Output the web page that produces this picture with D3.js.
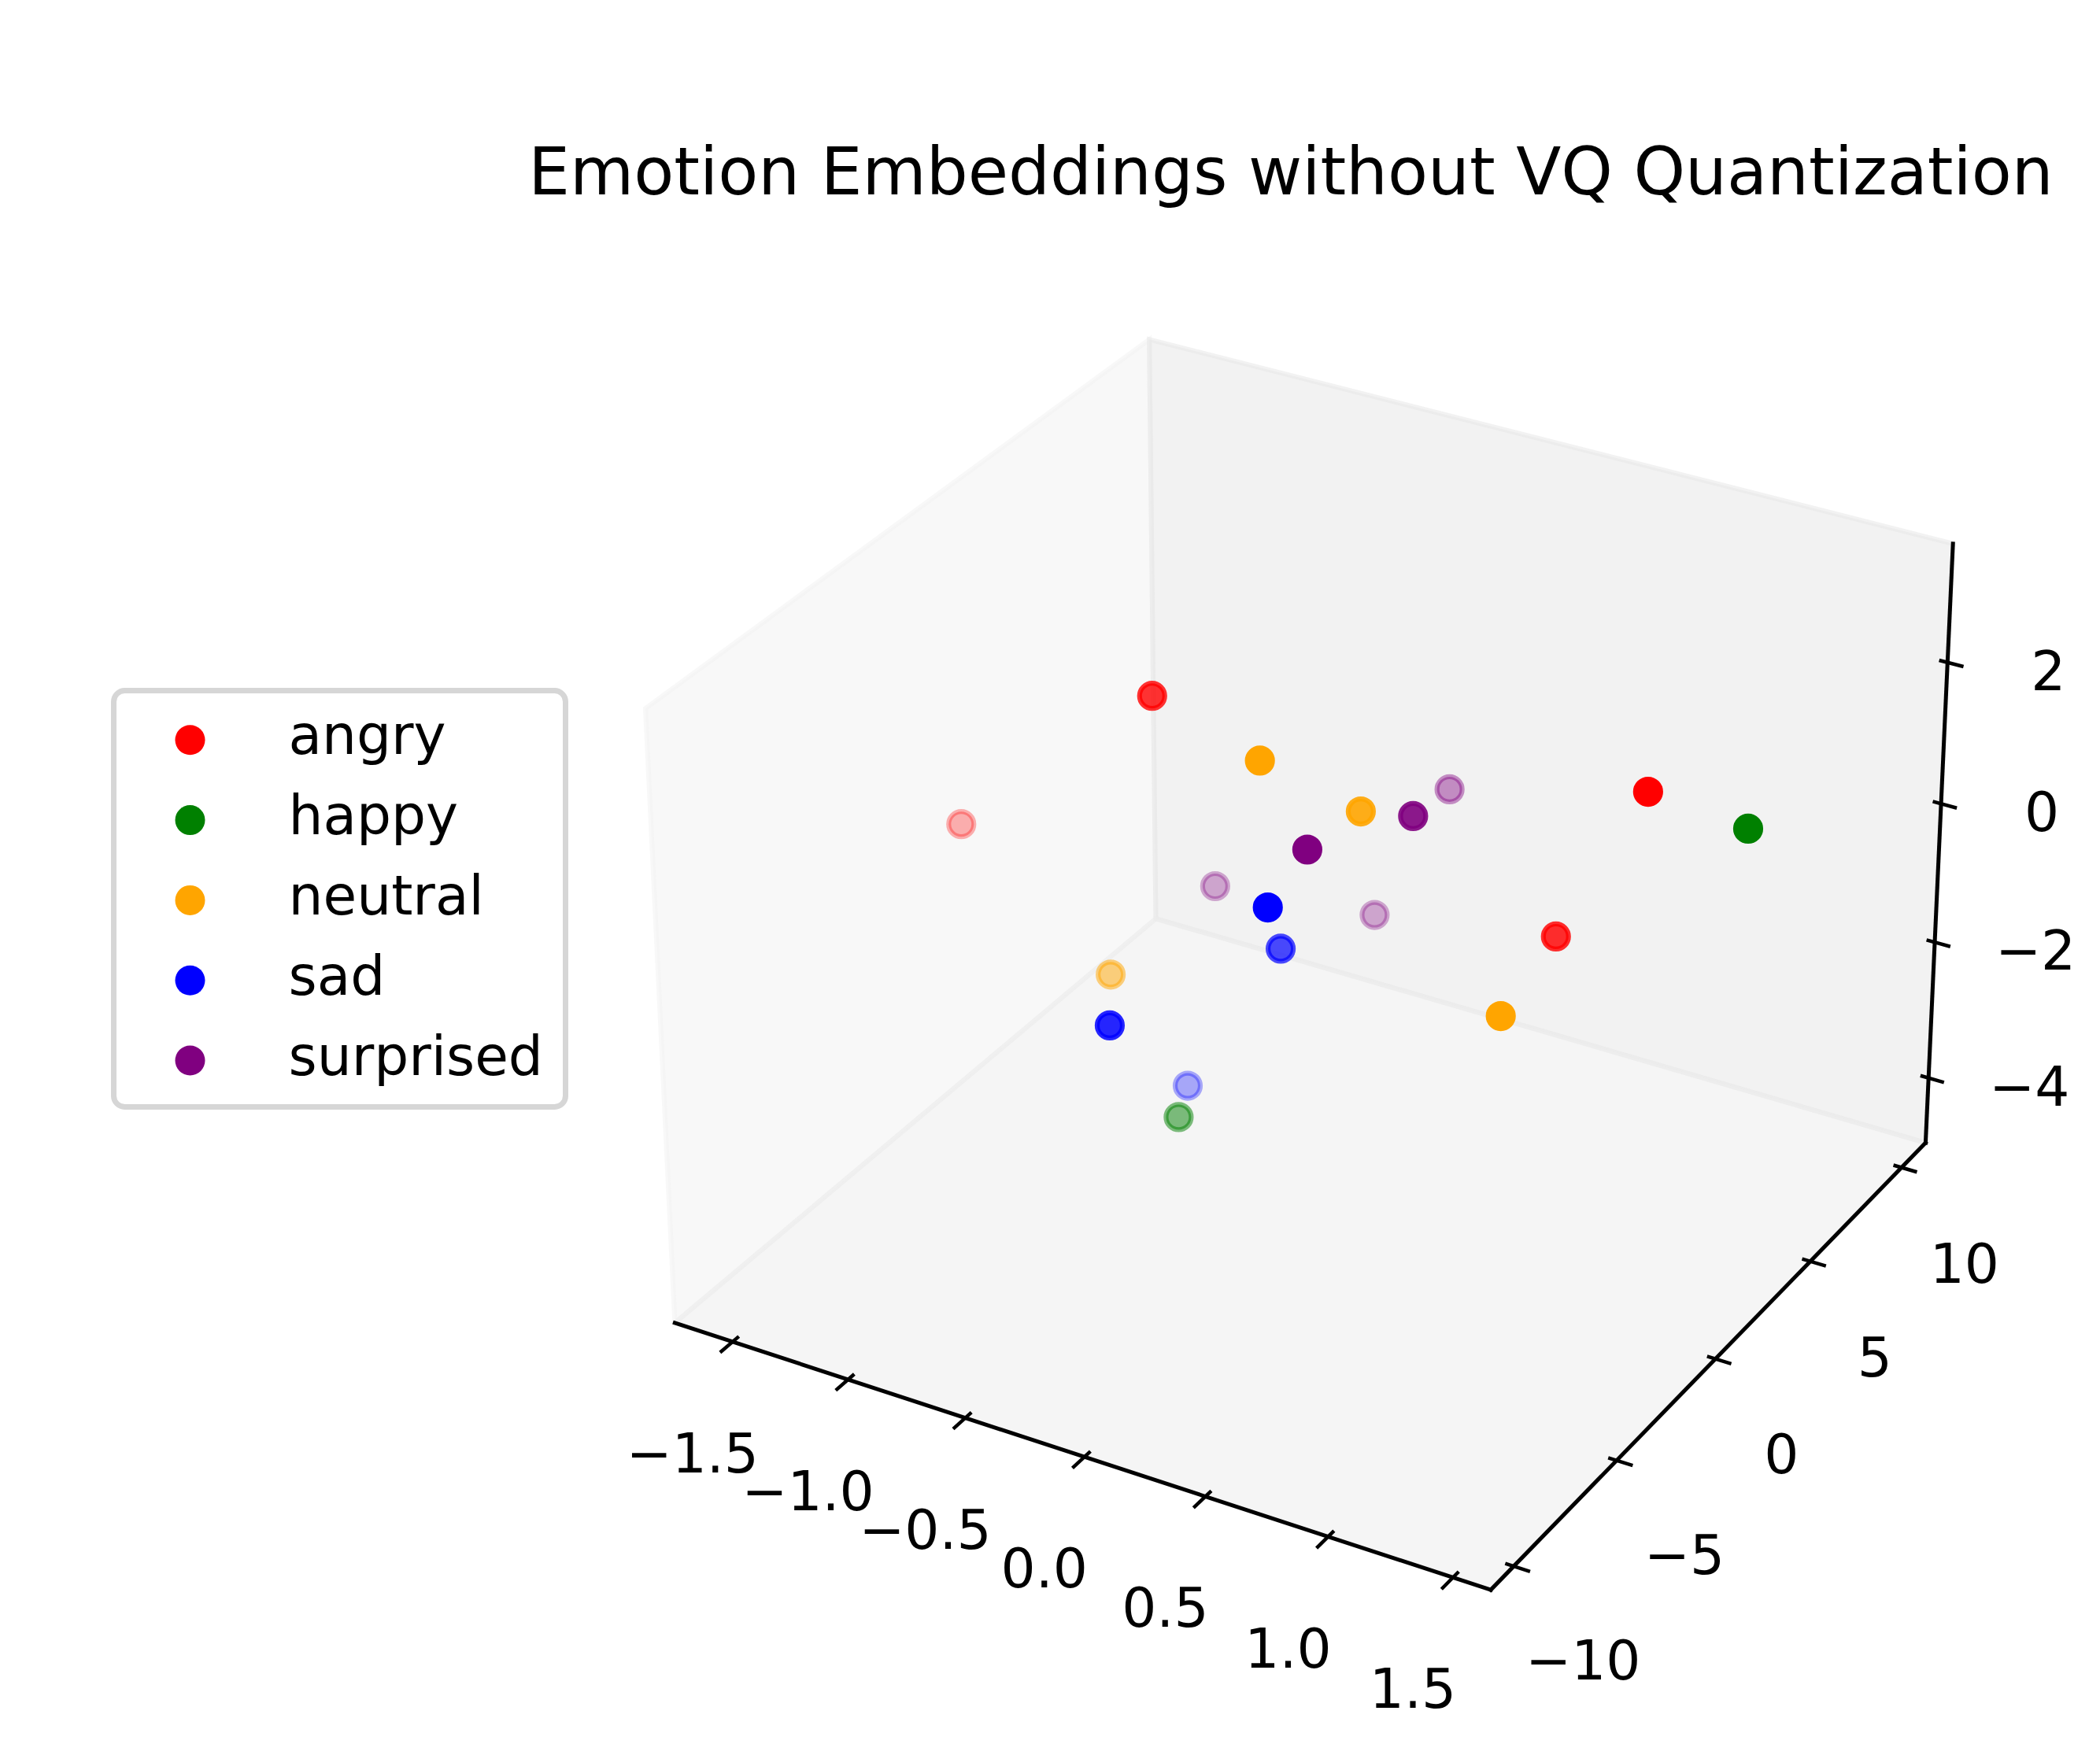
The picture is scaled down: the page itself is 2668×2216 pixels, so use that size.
<!DOCTYPE html>
<html>
<head>
<meta charset="utf-8">
<script src="https://cdnjs.cloudflare.com/ajax/libs/d3/7.8.5/d3.min.js"></script>
<style>html,body{margin:0;padding:0;background:#fff}svg{display:block}text{font-family:"DejaVu Sans",sans-serif;fill:#000}</style>
</head>
<body>
<svg id="chart" width="2668" height="2216"></svg>
<script>
const chartTitle = "Emotion Embeddings without VQ Quantization";
const emotions = ["angry", "happy", "neutral", "sad", "surprised"];
const emotionColors = ["#ff0000", "#008000", "#ffa500", "#0000ff", "#800080"];

const angryX = [-0.452, -1.761, 1.454, 1.0];
const angryY = [-2.77, 2.193, -1.722, -0.439];
const angryZ = [3.006, -1.237, 3.218, 0.488];
const angryShade = [0.8, 0.3, 1, 0.82];

const happyX = [1.563, -0.685];
const happyY = [2.006, 0.777];
const happyZ = [1.895, -4.119];
const happyShade = [1, 0.5];

const neutralX = [0.137, 0.363, -1.039, 1.089];
const neutralY = [-4.405, -2.316, 1.458, -4.175];
const neutralZ = [3.067, 2.073, -2.554, 0.453];
const neutralShade = [1, 0.9, 0.5, 1];

const sadX = [0.289, -0.011, -0.281, -0.748];
const sadY = [-5.772, -1.808, -6.689, 1.914];
const sadZ = [1.564, -0.32, -0.386, -4.026];
const sadShade = [1, 0.7, 0.85, 0.32];

const surprisedX = [-0.112, 0.405, 0.233, -0.91, -0.36];
const surprisedY = [7.611, -0.317, -3.321, 5.095, 6.77];
const surprisedZ = [-0.521, 1.552, 1.679, -2.065, -2.384];
const surprisedShade = [0.42, 0.9, 1, 0.32, 0.32];

const xTicks = [-1.5, -1.0, -0.5, 0.0, 0.5, 1.0, 1.5];
const xTickLabels = ["\u22121.5", "\u22121.0", "\u22120.5", "0.0", "0.5", "1.0", "1.5"];
const yTicks = [-10, -5, 0, 5, 10];
const yTickLabels = ["\u221210", "\u22125", "0", "5", "10"];
const zTicks = [-4, -2, 0, 2];
const zTickLabels = ["\u22124", "\u22122", "0", "2"];
const xLimits = [-1.753, 1.650];
const yLimits = [-11.09, 11.35];
const zLimits = [-4.97, 3.65];

const seriesX = [angryX, happyX, neutralX, sadX, surprisedX];
const seriesY = [angryY, happyY, neutralY, sadY, surprisedY];
const seriesZ = [angryZ, happyZ, neutralZ, sadZ, surprisedZ];
const seriesShade = [angryShade, happyShade, neutralShade, sadShade, surprisedShade];

const svg = d3.select("#chart");

// Camera: elevation 30, azimuth -60, distance 10, box aspect 4:4:3
const halfXY = 0.595, halfZ = 0.4465, dist = 10;
const el = 30 * Math.PI / 180, az = -60 * Math.PI / 180;
const w = [Math.cos(el) * Math.cos(az), Math.cos(el) * Math.sin(az), Math.sin(el)];
const u = [-Math.sin(az), Math.cos(az), 0];
const v = [w[1] * u[2] - w[2] * u[1], w[2] * u[0] - w[0] * u[2], w[0] * u[1] - w[1] * u[0]];
const dot = (a, b) => a[0] * b[0] + a[1] * b[1] + a[2] * b[2];

const boxX = d3.scaleLinear().domain(xLimits).range([-halfXY + 0.0038, halfXY]);
const boxY = d3.scaleLinear().domain(yLimits).range([-halfXY, halfXY]);
const boxZ = d3.scaleLinear().domain(zLimits).range([-halfZ, halfZ - 0.0057]);
const screenX = d3.scaleLinear().domain([-1, 1]).range([664, 2666]);
const screenY = d3.scaleLinear().domain([-1, 1]).range([2187.5, 181.5]);

function project(x, y, z) {
  const d = [boxX(x), boxY(y), boxZ(z)];
  const f = 1 / (1 - dot(d, w) / dist);
  return [screenX(dot(d, u) * f), screenY(dot(d, v) * f)];
}

const [x0, x1] = xLimits, [y0, y1] = yLimits, [z0, z1] = zLimits;
const lineGen = d3.line();

// Panes
const panes = [
  { c: [[x0, y0, z0], [x0, y1, z0], [x0, y1, z1], [x0, y0, z1]], col: "rgba(242,242,242,0.5)" },
  { c: [[x0, y1, z0], [x1, y1, z0], [x1, y1, z1], [x0, y1, z1]], col: "rgba(230,230,230,0.5)" },
  { c: [[x0, y0, z0], [x1, y0, z0], [x1, y1, z0], [x0, y1, z0]], col: "rgba(236,236,236,0.5)" }
];
svg.append("g").selectAll("path").data(panes).join("path")
  .attr("d", d => lineGen(d.c.map(p => project(...p))) + "Z")
  .attr("fill", d => d.col).attr("stroke", d => d.col).attr("stroke-width", 6);

// Axis lines
const axes = [
  [[x0, y0, z0], [x1, y0, z0]],
  [[x1, y0, z0], [x1, y1, z0]],
  [[x1, y1, z0], [x1, y1, z1]]
];
svg.append("g").selectAll("path").data(axes).join("path")
  .attr("d", d => lineGen(d.map(p => project(...p))))
  .attr("fill", "none").attr("stroke", "#000").attr("stroke-width", 5).attr("stroke-linecap", "square");

// Ticks and tick labels
const xDx = x1 - x0, yDy = y1 - y0;
const yShiftX = d3.scaleLinear().domain([-10, 10]).range([88, 80]);
const yShiftY = d3.scaleLinear().domain([-10, 10]).range([119, 122]);
const tickDefs = [
  ...xTicks.map((t, i) => ({ a: [t, y0 + 0.012 * yDy, z0], b: [t, y0 - 0.024 * yDy, z0], on: [t, y0, z0], label: xTickLabels[i], off: [-51, 141] })),
  ...yTicks.map((t, i) => ({ a: [x1 - 0.01 * xDx, t, z0], b: [x1 + 0.019 * xDx, t, z0], on: [x1, t, z0], label: yTickLabels[i], off: [yShiftX(t), yShiftY(t)] })),
  ...zTicks.map((t, i) => ({ a: [x1 - 0.01 * xDx, y1, t], b: [x1 + 0.019 * xDx, y1, t], on: [x1, y1, t], label: zTickLabels[i], off: [128, 10] }))
];
svg.append("g").selectAll("path").data(tickDefs).join("path")
  .attr("d", d => lineGen([project(...d.a), project(...d.b)]))
  .attr("stroke", "#000").attr("stroke-width", 4.5);
svg.append("g").selectAll("text").data(tickDefs).join("text")
  .attr("x", d => project(...d.on)[0] + d.off[0])
  .attr("y", d => project(...d.on)[1] + d.off[1])
  .attr("dy", "0.36em").attr("text-anchor", "middle").attr("font-size", 69.4)
  .text(d => d.label);

// Points
const points = emotions.flatMap((e, s) => seriesX[s].map((x, i) => ({
  x, y: seriesY[s][i], z: seriesZ[s][i], shade: seriesShade[s][i], color: emotionColors[s]
})));
svg.append("g").selectAll("circle").data(points).join("circle")
  .attr("cx", d => project(d.x, d.y, d.z)[0])
  .attr("cy", d => project(d.x, d.y, d.z)[1])
  .attr("r", 16)
  .attr("fill", d => d.color).attr("stroke", d => d.color)
  .attr("stroke-width", 6.2)
  .attr("fill-opacity", d => d.shade).attr("stroke-opacity", d => d.shade);

// Legend
const legend = svg.append("g");
legend.append("rect").attr("x", 144.5).attr("y", 877.5).attr("width", 574).attr("height", 529)
  .attr("rx", 14).attr("fill", "#fff").attr("stroke", "#d6d6d6").attr("stroke-width", 7);
const legendY = d3.scalePoint().domain(emotions).range([940.3, 1347.5]);
legend.selectAll("circle").data(emotions).join("circle")
  .attr("cx", 241.5).attr("cy", d => legendY(d)).attr("r", 19)
  .attr("fill", (d, i) => emotionColors[i]);
legend.selectAll("text").data(emotions).join("text")
  .attr("x", 366.5).attr("y", d => legendY(d) + 18).attr("font-size", 69.4)
  .text(d => d);

// Title
svg.append("text").attr("x", 1640).attr("y", 247).attr("text-anchor", "middle")
  .attr("font-size", 83.45).text(chartTitle);
</script>
</body>
</html>
